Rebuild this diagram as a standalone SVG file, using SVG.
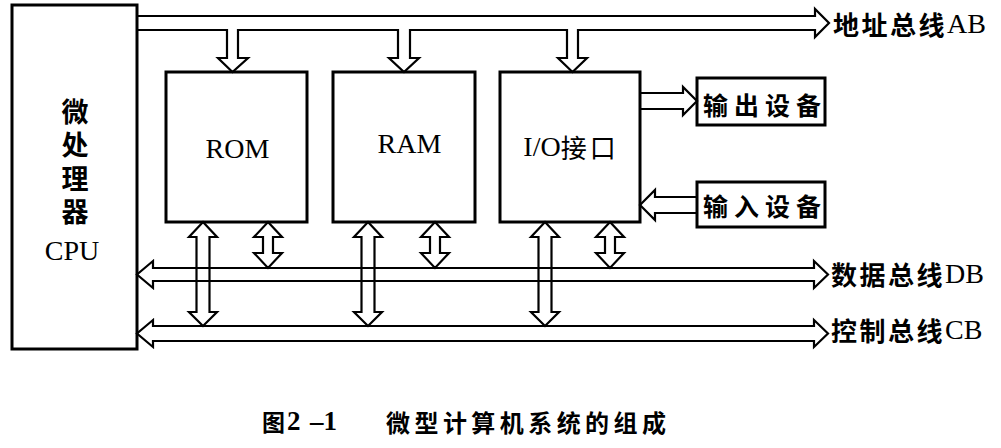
<svg xmlns="http://www.w3.org/2000/svg" width="1001" height="448" viewBox="0 0 1001 448">
<style>
.box{fill:none;stroke:#000;stroke-width:3}
.ar{fill:none;stroke:#000;stroke-width:2.2;stroke-linejoin:miter}
.cjk{font-family:"Noto Sans CJK SC","Noto Sans",sans-serif;font-weight:bold}
.lat{font-family:"Liberation Serif","Times New Roman",serif}
text{dominant-baseline:central;fill:#000}
</style>
<rect width="1001" height="448" fill="#fff"/>
<g id="connectors">
  <!-- address bus with branches -->
  <path class="ar" d="M137,16 H815 V9 L829,23 L815,37 V30 H578 V58 H587 L572.5,72 L558,58 H567 V30 H410 V58 H419 L404,72 L389,58 H398 V30 H238 V58 H248 L232.5,72 L218,58 H227 V30 H137"/>
  <!-- data bus -->
  <path class="ar" d="M153,268 H814 V261 L828,274.5 L814,288 V281 H153 V288 L137,274.5 L153,261 Z"/>
  <!-- control bus -->
  <path class="ar" d="M153,326 H814 V320 L828,333.5 L814,347 V341 H153 V347 L137,333.5 L153,320 Z"/>
  <!-- wide double arrows: box to control bus -->
  <path class="ar" d="M203,222 L217,237 H209.5 V312 H217 L203,326 L189,312 H196.5 V237 H189 Z"/>
  <path class="ar" d="M368,222 L382,237 H374.5 V312 H382 L368,326 L354,312 H361.5 V237 H354 Z"/>
  <path class="ar" d="M545,222 L559,237 H551.5 V312 H559 L545,326 L531,312 H538.5 V237 H531 Z"/>
  <!-- short double arrows: box to data bus -->
  <path class="ar" d="M268,222 L282,237 H273 V253 H282 L268,268 L254,253 H263 V237 H254 Z"/>
  <path class="ar" d="M435,222 L449,237 H440 V253 H449 L435,268 L421,253 H430 V237 H421 Z"/>
  <path class="ar" d="M610,222 L624,237 H615 V253 H624 L610,268 L596,253 H605 V237 H596 Z"/>
  <!-- I/O to output device -->
  <path class="ar" d="M640,93 H683 V87 L697,101 L683,115 V109 H640"/>
  <!-- input device to I/O -->
  <path class="ar" d="M697,197 H655 V190 L640,205 L655,220 V213 H697"/>
</g>
<g id="cpu">
  <rect class="box" x="12" y="5" width="125" height="344"/>
  <text class="cjk" x="75" y="98" font-size="27" writing-mode="vertical-rl" letter-spacing="6.5">微处理器</text>
  <text class="lat" x="72" y="250" font-size="28" text-anchor="middle">CPU</text>
</g>
<g id="rom">
  <rect class="box" x="166" y="72" width="141" height="150"/>
  <text class="lat" x="237.5" y="148" font-size="28" text-anchor="middle">ROM</text>
</g>
<g id="ram">
  <rect class="box" x="333" y="72" width="142" height="150"/>
  <text class="lat" x="409.5" y="143" font-size="28" text-anchor="middle">RAM</text>
</g>
<g id="io">
  <rect class="box" x="500" y="72" width="140" height="150"/>
  <text x="571" y="146" font-size="28" text-anchor="middle"><tspan class="lat">I/O</tspan><tspan class="cjk" font-size="26" style="font-weight:normal" letter-spacing="3">接口</tspan></text>
</g>
<g id="output">
  <rect class="box" x="697" y="78" width="128" height="47"/>
  <text class="cjk" x="703" y="103.5" font-size="25" textLength="118" lengthAdjust="spacing">输出设备</text>
</g>
<g id="input">
  <rect class="box" x="697" y="182" width="128" height="45"/>
  <text class="cjk" x="703" y="204.5" font-size="25" textLength="118" lengthAdjust="spacing">输入设备</text>
</g>
<g id="labels">
  <text x="833" y="22.5" font-size="26"><tspan class="cjk" letter-spacing="2.5">地址总线</tspan><tspan class="lat" font-size="28">AB</tspan></text>
  <text x="831" y="273" font-size="26"><tspan class="cjk" letter-spacing="2.5">数据总线</tspan><tspan class="lat" font-size="28">DB</tspan></text>
  <text x="831" y="329" font-size="26"><tspan class="cjk" letter-spacing="2.5">控制总线</tspan><tspan class="lat" font-size="28">CB</tspan></text>
</g>
<g id="caption">
  <text x="262" y="421" font-size="23"><tspan class="cjk">图</tspan><tspan class="lat" font-weight="bold" font-size="27" x="287">2</tspan><tspan class="lat" font-weight="bold" font-size="27" x="310">–1</tspan></text>
  <text class="cjk" x="386" y="421" font-size="24" textLength="280" lengthAdjust="spacing">微型计算机系统的组成</text>
</g>
</svg>
